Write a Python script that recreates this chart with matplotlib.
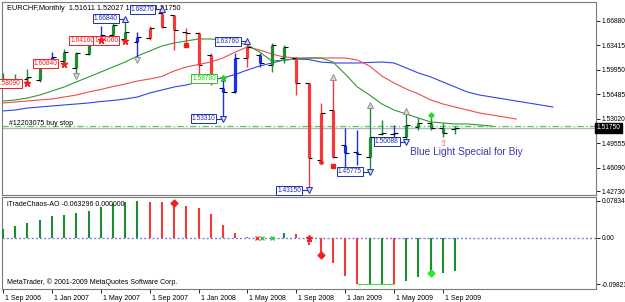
import matplotlib
matplotlib.use("Agg")
import matplotlib.pyplot as plt
import matplotlib.transforms as mtrans

plt.rcParams['font.family'] = ['Liberation Sans', 'DejaVu Sans']

# ---------------- data ----------------
months = ['Sep 2006', 'Oct 2006', 'Nov 2006', 'Dec 2006', 'Jan 2007', 'Feb 2007', 'Mar 2007',
          'Apr 2007', 'May 2007', 'Jun 2007', 'Jul 2007', 'Aug 2007', 'Sep 2007', 'Oct 2007',
          'Nov 2007', 'Dec 2007', 'Jan 2008', 'Feb 2008', 'Mar 2008', 'Apr 2008', 'May 2008',
          'Jun 2008', 'Jul 2008', 'Aug 2008', 'Sep 2008', 'Oct 2008', 'Nov 2008', 'Dec 2008',
          'Jan 2009', 'Feb 2009', 'Mar 2009', 'Apr 2009', 'May 2009', 'Jun 2009', 'Jul 2009',
          'Aug 2009', 'Sep 2009', 'Oct 2009']
opens = [1.5838, 1.5852, 1.5866, 1.5852, 1.6065, 1.6121, 1.6022, 1.6220, 1.6461, 1.6490,
         1.6433, 1.6390, 1.6447, 1.6801, 1.6773, 1.6532, 1.6518, 1.6206, 1.5739, 1.5682,
         1.6164, 1.6206, 1.6065, 1.6164, 1.6164, 1.5809, 1.4718, 1.5427, 1.4931, 1.4831,
         1.4761, 1.5087, 1.5087, 1.5044, 1.5186, 1.5243, 1.5172, 1.51611]
highs = [1.5951, 1.5937, 1.6008, 1.6065, 1.6249, 1.6291, 1.6249, 1.6447, 1.6617, 1.6660,
         1.6688, 1.6532, 1.6617, 1.6827, 1.6780, 1.6589, 1.6532, 1.6235, 1.5852, 1.6235,
         1.6376, 1.6235, 1.6376, 1.6348, 1.6178, 1.5815, 1.5526, 1.5852, 1.5172, 1.5143,
         1.5469, 1.5285, 1.5214, 1.5384, 1.5313, 1.5356, 1.5243, 1.52027]
lows = [1.5739, 1.5809, 1.5824, 1.5824, 1.6036, 1.6093, 1.5951, 1.6206, 1.6433, 1.6461,
        1.6405, 1.6164, 1.6419, 1.6589, 1.6277, 1.6320, 1.5824, 1.5781, 1.5331, 1.5668,
        1.6036, 1.6036, 1.5965, 1.6093, 1.5639, 1.4315, 1.4676, 1.4747, 1.4605, 1.4648,
        1.45775, 1.5073, 1.5002, 1.50088, 1.5143, 1.5143, 1.5044, 1.50837]
closes = [1.5866, 1.5866, 1.5894, 1.6050, 1.6178, 1.6249, 1.6235, 1.6390, 1.6490, 1.6631,
          1.6532, 1.6461, 1.6589, 1.6603, 1.6560, 1.6525, 1.6065, 1.5809, 1.5682, 1.6164,
          1.6320, 1.6093, 1.6348, 1.6320, 1.5809, 1.4747, 1.5384, 1.4761, 1.4817, 1.4803,
          1.5044, 1.5101, 1.5101, 1.5214, 1.5243, 1.5172, 1.5101, 1.51750]
bar_zone = ['G', 'G', 'G', 'G', 'B', 'G', 'G', 'G', 'B', 'G', 'G', 'B', 'R', 'R', 'R', 'R',
            'R', 'R', 'B', 'B', 'R', 'B', 'G', 'G', 'R', 'R', 'R', 'R', 'B', 'B', 'G', 'G',
            'B', 'G', 'G', 'G', 'G', 'G']

# Alligator-style lines (jaw shifted 8 bars, teeth 5, lips 3)
ma_blue = [1.5413, 1.5427, 1.5455, 1.5469, 1.5484, 1.5498, 1.5512, 1.5526, 1.5547, 1.5562,
           1.5583, 1.5611, 1.5668, 1.5710, 1.5753, 1.5781, 1.5824, 1.5852, 1.5880, 1.5930,
           1.5994, 1.6050, 1.6093, 1.6135, 1.6150, 1.6143, 1.6107, 1.6093, 1.6093, 1.6093,
           1.6100, 1.6107, 1.6093, 1.6022, 1.5951, 1.5895, 1.5824, 1.5753, 1.5682, 1.5639,
           1.5611, 1.5583, 1.5554, 1.5526, 1.5498, 1.5469]
ma_red = [1.5526, 1.5540, 1.5554, 1.5569, 1.5583, 1.5611, 1.5639, 1.5682, 1.5717, 1.5760,
          1.5795, 1.5838, 1.5866, 1.5902, 1.5980, 1.6036, 1.6072, 1.6107, 1.6164, 1.6249,
          1.6320, 1.6277, 1.6220, 1.6178, 1.6164, 1.6164, 1.6164, 1.6164, 1.6164, 1.6135,
          1.6050, 1.5909, 1.5810, 1.5724, 1.5654, 1.5569, 1.5512, 1.5469, 1.5427, 1.5384,
          1.5356, 1.5328, 1.5299]
ma_green = [1.5554, 1.5569, 1.5597, 1.5639, 1.5696, 1.5753, 1.5824, 1.5894, 1.5965, 1.6036,
            1.6107, 1.6192, 1.6263, 1.6334, 1.6376, 1.6405, 1.6433, 1.6433, 1.6419, 1.6390,
            1.6348, 1.6249, 1.6121, 1.6135, 1.6150, 1.6164, 1.6164, 1.6107, 1.5937, 1.5753,
            1.5639, 1.5512, 1.5427, 1.5370, 1.5313, 1.5257, 1.5243, 1.5229, 1.5229, 1.5214,
            1.5200]

ao_values = [0.018, 0.025, 0.032, 0.037, 0.045, 0.049, 0.053, 0.057, 0.066, 0.071, 0.075, 0.0783,
             0.075, 0.075, 0.073, 0.068, 0.064, 0.050, 0.027, 0.011, 0.002, -0.001, 0.001, 0.011,
             0.008, -0.016, -0.037, -0.054, -0.081, -0.0982, -0.0982, -0.0982, -0.0982, -0.091,
             -0.084, -0.074, -0.074, -0.0706]
ao_zone = ['G'] * 12 + ['R'] * 9 + ['R', 'G', 'G', 'R', 'R', 'R', 'R', 'R', 'R', 'G', 'G', 'R',
                                   'G', 'G', 'G', 'G', 'G']

tick_bars = [0, 4, 8, 12, 16, 20, 24, 28, 32, 36]
tick_labels = ['1 Sep 2006', '1 Jan 2007', '1 May 2007', '1 Sep 2007', '1 Jan 2008',
               '1 May 2008', '1 Sep 2008', '1 Jan 2009', '1 May 2009', '1 Sep 2009']
price_ticks = [1.66880, 1.63415, 1.59950, 1.56485, 1.53020, 1.49555, 1.46090, 1.42730]
last_price = 1.51750
buy_stop = 1.5200
ao_ticks = [0.07834, 0.0, -0.09821]
ao_tick_labels = ['0.07834', '0.00', '-0.09821']

# fractal labels: (bar, anchor price, text, up/down)
fractal_boxes = [(10, 1.6688, '1.66840', 'up'), (13, 1.6827, '1.68270', 'up'),
                 (20, 1.6376, '1.63760', 'up'), (18, 1.5331, '1.53310', 'down'),
                 (25, 1.4315, '1.43150', 'down'), (30, 1.45775, '1.45775', 'down'),
                 (33, 1.50088, '1.50088', 'down')]
star_boxes = [(2, 1.58090, '1.58090', 'R'), (5, 1.60840, '1.60840', 'R'),
              (8, 1.64160, '1.64160', 'R'), (10, 1.64060, '1.64060', 'R'),
              (18, 1.58780, '1.58780', 'G')]
plain_up = [(27, 1.5852), (30, 1.5469), (33, 1.5384)]
plain_down = [(6, 1.5951), (11, 1.6164)]

# ---------------- layout ----------------
W, H = 625, 302
fig = plt.figure(figsize=(W / 100, H / 100), dpi=100)
fig.patch.set_facecolor('white')


def box(l, t, r, b):
    return [l / W, 1 - b / H, (r - l) / W, (b - t) / H]


ax = fig.add_axes(box(2, 2, 596, 195))
ao = fig.add_axes(box(2, 197, 596, 289))

x0_px, step_px = 3.0, 12.22
xl = (-x0_px / step_px + 2 / step_px, (596 - x0_px) / step_px)
ax.set_xlim(*xl)
ao.set_xlim(*xl)
ppx = 0.001417
ax.set_ylim(1.6688 - (195 - 21) * ppx, 1.6688 + 19 * ppx)
apx = 0.00212
ao.set_ylim(-(289 - 237.7) * apx, (237.7 - 197) * apx)

COL = {'G': '#1E8C32', 'R': '#F23A3A', 'B': '#1830E6'}
MARK = {'G': '#1E8C32', 'R': '#F23A3A'}

# MA lines
ax.plot(range(len(ma_blue)), ma_blue, color='#3344E6', lw=0.8, zorder=2)
ax.plot(range(len(ma_red)), ma_red, color='#F24A4A', lw=0.8, zorder=2)
ax.plot(range(len(ma_green)), ma_green, color='#2E9A2E', lw=0.8, zorder=2)

# horizontal lines
ax.axhline(buy_stop, color='#55CC55', lw=0.9, ls=(0, (5, 2, 1, 2)), zorder=1)
ax.axhline(last_price, color='#B4B4C8', lw=1.0, zorder=1)

# bars
for i in range(len(opens)):
    c = COL[bar_zone[i]]
    ax.vlines(i, lows[i], highs[i], color=c, lw=1.0, zorder=3)
    ax.vlines(i, min(opens[i], closes[i]), max(opens[i], closes[i]), color=c, lw=2.3, zorder=3)
    ax.hlines(opens[i], i - 0.32, i, color='black', lw=0.8, zorder=4)
    ax.hlines(closes[i], i, i + 0.32, color='black', lw=0.8, zorder=4)

# fractal boxes with arrows
for b, p, t, d in fractal_boxes:
    off = 2 * ppx
    yy = p + off if d == 'up' else p - off
    ax.hlines(yy, b - 0.62, b, color='#2030B0', lw=0.8, zorder=5)
    ax.plot(b, yy, marker='^' if d == 'up' else 'v', ms=4.5, mfc='#D8D8E8',
            mec='#2030B0', mew=0.7, zorder=6)
    ax.text(b - 0.62, yy, t, ha='right', va='center', fontsize=4.8, color='#2030B0', zorder=6,
            bbox=dict(boxstyle='square,pad=0.15', fc='white', ec='#2030B0', lw=0.7))

for b, p, t, k in star_boxes:
    col = '#F02020' if k == 'R' else '#22CC22'
    ax.plot(b, p, marker='*', ms=5, color=col, zorder=6)
    ax.text(b - 0.55, p, t, ha='right', va='center', fontsize=4.8, color=col, zorder=5,
            bbox=dict(boxstyle='square,pad=0.15', fc='white', ec=col, lw=0.7))

for b, p in plain_up:
    ax.plot(b, p + 2.5 * ppx, marker='^', ms=4.5, mfc='#D8D8D8', mec='#909090', mew=0.7, zorder=6)
for b, p in plain_down:
    ax.plot(b, p - 2.5 * ppx, marker='v', ms=4.5, mfc='#D8D8D8', mec='#909090', mew=0.7, zorder=6)

# small signal markers
ax.plot(35, 1.5356, marker='D', ms=2.6, color='#22DD22', zorder=6)
ax.plot(15, 1.6348, marker='s', ms=2.4, color='#F02020', zorder=6)
ax.plot(27, 1.4633, marker='s', ms=2.4, color='#F02020', zorder=6)
ax.plot(26, 1.4690, marker='o', ms=2.4, color='#F02020', zorder=6)
ax.text(36, 1.4959, '\u21e7', ha='center', va='center', fontsize=6.5, color='#FF5050',
        family='DejaVu Sans', zorder=6)

# texts
ax.text(5 / 594, 1 - 6 / 193, 'EURCHF,Monthly  1.51611 1.52027 1.50837 1.51750',
        transform=ax.transAxes, ha='left', va='center', fontsize=5.3, color='black')
ax.text(7 / 594, buy_stop + 2.5 * ppx, '#12203075 buy stop',
        transform=mtrans.blended_transform_factory(ax.transAxes, ax.transData),
        ha='left', va='center', fontsize=5.0, color='black')
ax.text(33.3, 1.4832, 'Blue Light Special for Biy', ha='left', va='center', fontsize=7.3,
        color='#3A3AAA')

# right price axis
ax.yaxis.tick_right()
ax.set_yticks(price_ticks)
ax.set_yticklabels([f'{v:.5f}' for v in price_ticks])
ax.tick_params(axis='y', length=3, width=0.6, labelsize=4.8, pad=1.0, colors='black')
ax.set_xticks([])
ax.text(1.0012, last_price, f'{last_price:.5f}',
        transform=mtrans.blended_transform_factory(ax.transAxes, ax.transData),
        ha='left', va='center', fontsize=4.8, color='white', clip_on=False, zorder=10,
        bbox=dict(boxstyle='square,pad=0.2', fc='black', ec='black'))

# AO panel
for i, v in enumerate(ao_values):
    ao.vlines(i, 0, v, color=MARK[ao_zone[i]], lw=1.5, zorder=3)
ao.axhline(0, color='#8080E0', lw=1.0, ls=(0, (1.5, 1.5)), zorder=2)
ao.hlines(-0.0982, 29, 32, color='#44DD44', lw=0.8, zorder=4)
ao.plot(14, ao_values[14], marker='D', ms=3.5, color='#F02020', zorder=5)
ao.plot(26, ao_values[26], marker='D', ms=3.5, color='#F02020', zorder=5)
ao.plot(35, ao_values[35], marker='D', ms=3.5, color='#22EE22', zorder=5)
ao.plot(20.8, 0, marker='x', ms=3, color='#F02020', mew=0.9, zorder=5)
ao.plot(21.2, 0, marker='x', ms=3, color='#22CC22', mew=0.9, zorder=5)
ao.plot(22, 0, marker='x', ms=3, color='#22CC22', mew=0.9, zorder=5)
ao.plot(25, 0, marker='*', ms=5, color='#F02020', zorder=5)

ao.text(5 / 594, 1 - 8 / 92, 'iTradeChaos-AO -0.063296 0.000000', transform=ao.transAxes,
        ha='left', va='center', fontsize=5.0, color='black')
ao.text(5 / 594, 7 / 92, 'MetaTrader, \u00a9 2001-2009 MetaQuotes Software Corp.',
        transform=ao.transAxes, ha='left', va='center', fontsize=5.0, color='black')

ao.yaxis.tick_right()
ao.set_yticks(ao_ticks)
ao.set_yticklabels(ao_tick_labels)
ao.tick_params(axis='y', length=3, width=0.6, labelsize=4.8, pad=1.0, colors='black')
ao.set_xticks(tick_bars)
ao.set_xticklabels(tick_labels)
ao.tick_params(axis='x', length=3, width=0.6, labelsize=5.0, pad=1.5, colors='black')
offset = mtrans.ScaledTranslation(2 / 100, 0, fig.dpi_scale_trans)
for lab in ao.get_xticklabels():
    lab.set_horizontalalignment('left')
    lab.set_transform(lab.get_transform() + offset)

for a in (ax, ao):
    a.set_facecolor('white')
    for s in a.spines.values():
        s.set_color('#7A7A7A')
        s.set_linewidth(0.8)

fig.savefig('out.png', dpi=100, facecolor='white')
